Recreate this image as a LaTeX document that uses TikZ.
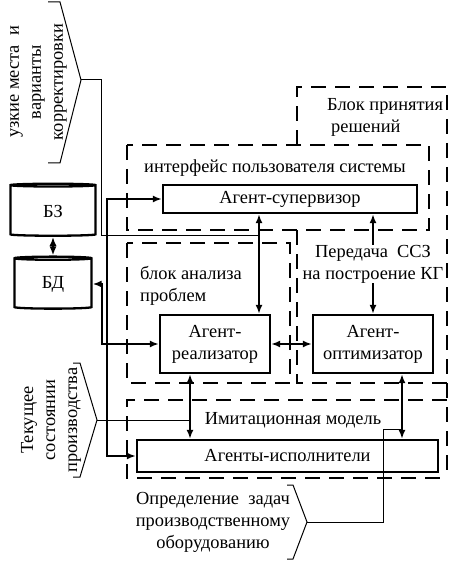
\documentclass[tikz,border=0pt]{standalone}
\usepackage{fontspec}
\setmainfont{Liberation Serif}
\usetikzlibrary{
    shapes.geometric,
    arrows.meta
}

\begin{document}
\begin{tikzpicture}[
      x=10pt, y=10pt,
      lbl/.style={font=\fontsize{18.4}{22}\selectfont, align=center, inner sep=0pt},
      agent/.style={lbl, draw, line width=2.3pt},
      db/.style={lbl, draw, line width=2.3pt, cylinder, shape border rotate=90, aspect=0.14},
      zone/.style={line width=2.8pt, dash pattern=on 15pt off 9pt},
      link/.style={{Latex[length=9pt,width=7pt]}-{Latex[length=9pt,width=7pt]}, line width=2.1pt},
      link1/.style={-{Latex[length=9pt,width=7pt]}, line width=2.1pt},
      hint/.style={line width=1pt}
    ]
    \useasboundingbox (0,0) rectangle (45.1,-56.1);

    \node[agent, minimum width=254pt, minimum height=28pt] (sup) at (29.0,-19.9) {Агент-супервизор};
    \node[agent, minimum width=110pt, minimum height=58pt] (real) at (21.5,-34.4) {Агент-\\реализатор};
    \node[agent, minimum width=120pt, minimum height=58pt] (opt) at (37.3,-34.4) {Агент-\\оптимизатор};
    \node[agent, minimum width=301pt, minimum height=32pt] (isp) at (28.75,-45.6) {Агенты-исполнители};

    \node[db, minimum width=85pt, minimum height=52pt] (bz) at (5.3,-21.1) {БЗ};
    \node[db, minimum width=77pt, minimum height=52pt] (bd) at (5.3,-28.4) {БД};

    \node[lbl, anchor=west, align=left] (prinyat) at (32.7,-11.7) {Блок принятия\\\hspace*{4pt}решений};
    \node[lbl] (ui) at (27.5,-16.8) {интерфейс пользователя системы};
    \node[lbl, anchor=west, align=left] (analiz) at (14.0,-28.6) {блок анализа\\проблем};
    \node[lbl] (pered) at (37.3,-26.4) {Передача~ ССЗ\\на построение КГ};
    \node[lbl] (imit) at (29.3,-42.0) {Имитационная модель};
    \node[lbl] (opred) at (21.3,-52.2) {Определение~ задач\\производственному\\оборудованию};
    \node[lbl, rotate=90] (uzk) at (3.85,-8.2) {узкие места~ и\\варианты\\корректировки};
    \node[lbl, rotate=90] (tek) at (5.1,-42.0) {Текущее\\состоянии\\производства};

    % dashed blocks
    \draw[zone] (29.7,-14.5) -- (29.7,-8.7) -- (44.7,-8.7) -- (44.7,-47.8);
    \draw[zone] (12.7,-14.5) rectangle (42.9,-23.0);
    \draw[zone] (12.7,-24.3) rectangle (29.0,-38.3);
    \draw[zone] (29.7,-23.0) -- (29.7,-38.3) -- (44.7,-38.3);
    \draw[zone] (44.7,-40.0) -- (12.7,-40.0) -- (12.7,-47.8) -- (44.7,-47.8);

    % connections
    \coordinate (busS) at (10.7,-30.0);
    \coordinate (busD) at (10.2,-30.0);
    \draw[link] (bz) -- (bd);
    \draw[link] (sup.west) -| (busS) |- (isp.west);
    \draw[link] (bd.east) -| (busD) |- (real.west);
    \draw[link] (25.9,0 |- sup.south) -- (25.9,0 |- real.north);
    \draw[link1] (pered.north) -- (pered.north |- sup.south);
    \draw[link1] (pered.south) -- (opt.north);
    \draw[link] (real) -- (opt);
    \draw[link] (19.0,0 |- real.south) -- (19.0,0 |- isp.north);
    \draw[link] (40.2,0 |- opt.south) -- (40.2,0 |- isp.north);

    % brackets
    \draw[hint] (4.8,-0.2) -- (6.0,-0.2) -- (8.1,-8.0) coordinate (tip1) -- (6.0,-16.3) -- (4.8,-16.3);
    \draw[hint] (tip1) -- (10.1,-8.0) -- (10.1,-23.5) -- (25.9,-23.5);
    \draw[hint] (7.3,-36.3) -- (8.0,-36.3) -- (9.7,-42.0) coordinate (tip2) -- (8.0,-47.7) -- (7.3,-47.7);
    \draw[hint] (tip2) -- (19.0,-42.0);
    \draw[hint] (28.7,-48.5) -- (29.3,-48.5) -- (30.7,-52.2) coordinate (tip3) -- (29.3,-55.9) -- (28.7,-55.9);
    \draw[hint] (tip3) -| (38.3,-42.9) -- (40.2,-42.9);
\end{tikzpicture}
\end{document}
